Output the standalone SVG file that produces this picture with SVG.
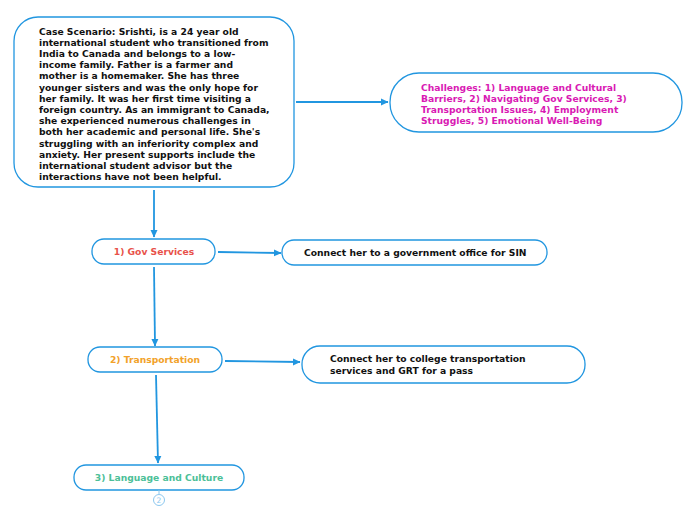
<svg xmlns="http://www.w3.org/2000/svg" width="696" height="520" viewBox="0 0 696 520">
<style>
.box{fill:#fff;stroke:#2196e0;stroke-width:1.3}
.t{font-family:"DejaVu Sans",Verdana,sans-serif;font-weight:bold;font-size:9.2px}
.c{stroke:#2196e0;stroke-width:1.8;fill:none;marker-end:url(#ah)}
</style>
<defs>
<marker id="ah" markerWidth="8" markerHeight="8" refX="7" refY="4" orient="auto" markerUnits="userSpaceOnUse">
<path d="M0,0.5 L7.5,4 L0,7.5 Z" fill="#2196e0"/>
</marker>
</defs>
<rect width="696" height="520" fill="#fff"/>
<g id="connectors">
<line class="c" x1="296" y1="102" x2="388" y2="102"/>
<line class="c" x1="154" y1="190" x2="154" y2="237"/>
<line class="c" x1="218" y1="252" x2="281" y2="253"/>
<line class="c" x1="154" y1="267" x2="155" y2="346"/>
<line class="c" x1="225" y1="361" x2="300" y2="362"/>
<line class="c" x1="156" y1="375" x2="158" y2="463"/>
</g>
<g id="case">
<rect class="box" x="14" y="17" width="280" height="170" rx="24"/>
<text class="t" fill="#111">
<tspan x="39" y="34.5">Case Scenario: Srishti, is a 24 year old</tspan>
<tspan x="39" y="45.7">international student who transitioned from</tspan>
<tspan x="39" y="56.9">India to Canada and belongs to a low-</tspan>
<tspan x="39" y="68.1">income family. Father is a farmer and</tspan>
<tspan x="39" y="79.3">mother is a homemaker. She has three</tspan>
<tspan x="39" y="90.5">younger sisters and was the only hope for</tspan>
<tspan x="39" y="101.7">her family. It was her first time visiting a</tspan>
<tspan x="39" y="112.9">foreign country. As an immigrant to Canada,</tspan>
<tspan x="39" y="124.1">she experienced numerous challenges in</tspan>
<tspan x="39" y="135.3">both her academic and personal life. She's</tspan>
<tspan x="39" y="146.5">struggling with an inferiority complex and</tspan>
<tspan x="39" y="157.7">anxiety. Her present supports include the</tspan>
<tspan x="39" y="168.9">international student advisor but the</tspan>
<tspan x="39" y="180.1">interactions have not been helpful.</tspan>
</text>
</g>
<g id="challenges">
<rect class="box" x="390" y="73" width="292" height="59" rx="29"/>
<text class="t" fill="#d91ab4">
<tspan x="421" y="90.5">Challenges: 1) Language and Cultural</tspan>
<tspan x="421" y="101.5">Barriers, 2) Navigating Gov Services, 3)</tspan>
<tspan x="421" y="112.5">Transportation Issues, 4) Employment</tspan>
<tspan x="421" y="123.5">Struggles, 5) Emotional Well-Being</tspan>
</text>
</g>
<g id="gov">
<rect class="box" x="92" y="239" width="123" height="25" rx="12"/>
<text class="t" fill="#e8524a" x="154" y="255" text-anchor="middle">1) Gov Services</text>
</g>
<g id="sin">
<rect class="box" x="282" y="240" width="265" height="25" rx="12"/>
<text class="t" fill="#111" x="304" y="256">Connect her to a government office for SIN</text>
</g>
<g id="transport">
<rect class="box" x="88" y="347" width="134" height="25" rx="12"/>
<text class="t" fill="#f2a22a" x="155" y="363" text-anchor="middle">2) Transportation</text>
</g>
<g id="college">
<rect class="box" x="302" y="346" width="283" height="37" rx="18"/>
<text class="t" fill="#111">
<tspan x="330" y="362">Connect her to college transportation</tspan>
<tspan x="330" y="373.5">services and GRT for a pass</tspan>
</text>
</g>
<g id="lang">
<rect class="box" x="74" y="465" width="170" height="25" rx="12"/>
<text class="t" fill="#4cbf98" x="159" y="481" text-anchor="middle">3) Language and Culture</text>
<line x1="159" y1="490" x2="159" y2="494" stroke="#8cc8ef" stroke-width="1"/>
<circle cx="159" cy="500" r="5.5" fill="#fff" stroke="#8cc8ef" stroke-width="1"/>
<text x="159" y="503" text-anchor="middle" font-family="DejaVu Sans,sans-serif" font-size="7.5px" fill="#8cc8ef">2</text>
</g>
</svg>
